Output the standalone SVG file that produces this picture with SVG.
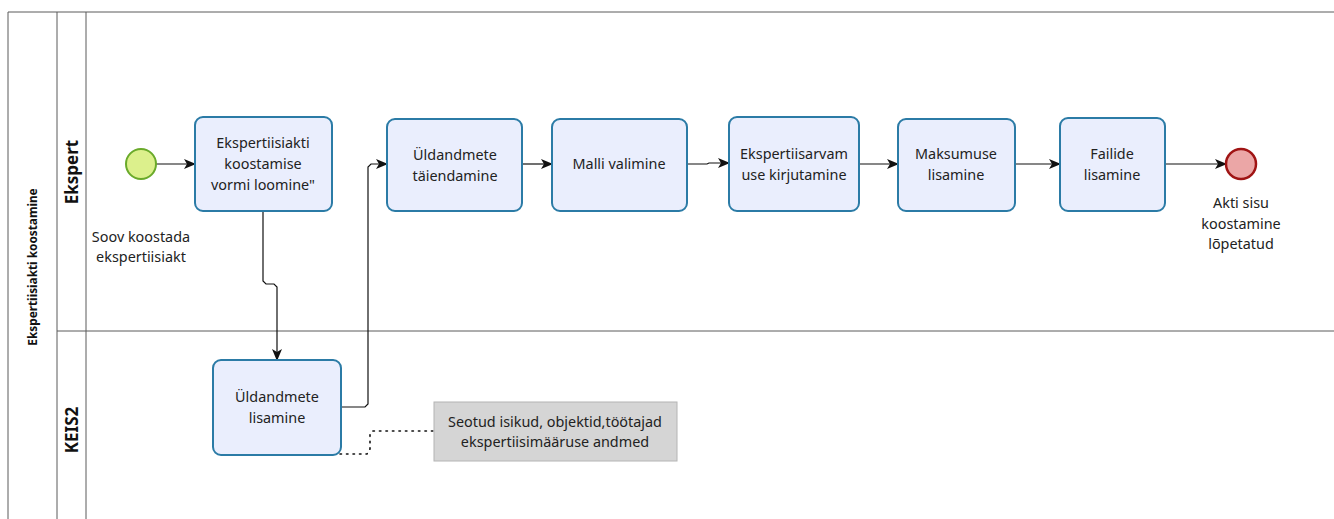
<svg xmlns="http://www.w3.org/2000/svg" width="1334" height="519" viewBox="0 0 1334 519">
  <style>
    .lane { fill: none; stroke: #5a5a5a; stroke-width: 1; }
    .task rect { fill: #eaeefd; stroke: #2b7ba6; stroke-width: 2; }
    .txt { font-family: "Noto Sans", "DejaVu Sans", sans-serif; font-size: 14.4px; fill: #222; text-anchor: middle; }
    .hdr { font-family: "Noto Sans", "DejaVu Sans", sans-serif; font-weight: bold; fill: #111; text-anchor: middle; }
    .flow { fill: none; stroke: #111; stroke-width: 1.2; marker-end: url(#arrow); }
    .assoc { fill: none; stroke: #111; stroke-width: 1.6; stroke-dasharray: 1.5 5; stroke-linecap: round; }
  </style>
  <defs>
    <marker id="arrow" viewBox="0 0 12 10" refX="11" refY="5" markerWidth="12" markerHeight="10" markerUnits="userSpaceOnUse" orient="auto">
      <path d="M0,0 L12,5 L0,10 L3,5 Z" fill="#111"/>
    </marker>
  </defs>

  <rect width="1334" height="519" fill="#ffffff"/>

  <!-- pool and lanes -->
  <g id="pool">
    <path class="lane" d="M8,519 V12 H1340"/>
    <line class="lane" x1="57" y1="12" x2="57" y2="519"/>
    <line class="lane" x1="86" y1="12" x2="86" y2="519"/>
    <line class="lane" x1="57" y1="331" x2="1340" y2="331"/>
    <text class="hdr" font-size="11.8" transform="translate(37,267) rotate(-90)">Ekspertiisiakti koostamine</text>
    <text class="hdr" font-size="17" transform="translate(78,172) rotate(-90)">Ekspert</text>
    <text class="hdr" font-size="17" transform="translate(78,430) rotate(-90)">KEIS2</text>
  </g>

  <!-- connectors -->
  <g id="connectors">
    <path class="flow" d="M156,164 H195"/>
    <path class="flow" d="M263,211 V281 L266,284 H274 L277,287 V360"/>
    <path class="flow" d="M341,407 H365 L368,404 V167 L371,164 H387"/>
    <path class="flow" d="M522,164 H552"/>
    <path class="flow" d="M687,164 H707 L709,163 H729"/>
    <path class="flow" d="M859,164 H898"/>
    <path class="flow" d="M1015,164 H1060"/>
    <path class="flow" d="M1165,164 H1226"/>
    <path class="assoc" d="M327,454 H367 L370,449 V434 L373,431 H434"/>
  </g>

  <!-- start event -->
  <g id="start">
    <circle cx="141" cy="164" r="15" fill="#dcf08c" stroke="#6aaa2a" stroke-width="2"/>
    <text class="txt" x="141" y="242">Soov koostada</text>
    <text class="txt" x="141" y="262">ekspertiisiakt</text>
  </g>

  <g id="task1" class="task">
    <rect x="195" y="117" width="137" height="94" rx="8"/>
    <text class="txt" x="263" y="148">Ekspertiisiakti</text>
    <text class="txt" x="263" y="169">koostamise</text>
    <text class="txt" x="263" y="190">vormi loomine"</text>
  </g>

  <g id="task2" class="task">
    <rect x="387" y="119" width="135" height="92" rx="8"/>
    <text class="txt" x="455" y="160">Üldandmete</text>
    <text class="txt" x="455" y="181">täiendamine</text>
  </g>

  <g id="task3" class="task">
    <rect x="552" y="119" width="135" height="92" rx="8"/>
    <text class="txt" x="619" y="169">Malli valimine</text>
  </g>

  <g id="task4" class="task">
    <rect x="729" y="117" width="130" height="94" rx="8"/>
    <text class="txt" x="794" y="159">Ekspertiisarvam</text>
    <text class="txt" x="794" y="180">use kirjutamine</text>
  </g>

  <g id="task5" class="task">
    <rect x="898" y="119" width="117" height="92" rx="8"/>
    <text class="txt" x="956" y="159">Maksumuse</text>
    <text class="txt" x="956" y="180">lisamine</text>
  </g>

  <g id="task6" class="task">
    <rect x="1060" y="118" width="105" height="93" rx="8"/>
    <text class="txt" x="1112" y="159">Failide</text>
    <text class="txt" x="1112" y="180">lisamine</text>
  </g>

  <!-- end event -->
  <g id="end">
    <circle cx="1241" cy="164" r="15" fill="#eba6a6" stroke="#a01414" stroke-width="2.5"/>
    <text class="txt" x="1241" y="208">Akti sisu</text>
    <text class="txt" x="1241" y="229">koostamine</text>
    <text class="txt" x="1241" y="249">lõpetatud</text>
  </g>

  <g id="task7" class="task">
    <rect x="213" y="360" width="128" height="95" rx="8"/>
    <text class="txt" x="277" y="402">Üldandmete</text>
    <text class="txt" x="277" y="423">lisamine</text>
  </g>

  <!-- annotation -->
  <g id="note">
    <rect x="434" y="402" width="243" height="59" fill="#d5d5d5" stroke="#b4b4b4" stroke-width="1"/>
    <text class="txt" x="555" y="427">Seotud isikud, objektid,töötajad</text>
    <text class="txt" x="555" y="447">ekspertiisimääruse andmed</text>
  </g>
</svg>
